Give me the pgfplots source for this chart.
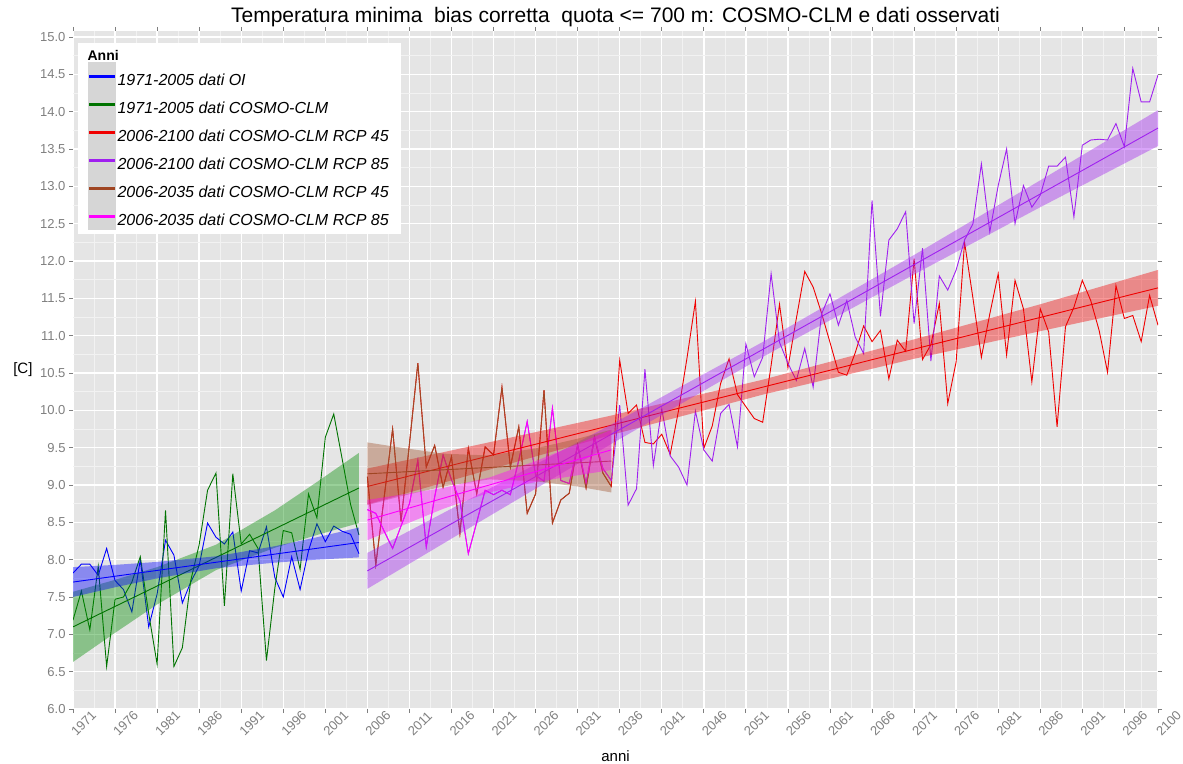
\documentclass[border=0pt]{standalone}
\usepackage{fontspec}
\setmainfont{Liberation Sans}
\usepackage{pgfplots}
\pgfplotsset{compat=1.18}
\pgfkeys{/pgf/number format/assume math mode=true}
\definecolor{panelbg}{HTML}{E5E5E5}
\definecolor{minorgrid}{HTML}{F2F2F2}
\definecolor{cblue}{RGB}{0,0,255}
\definecolor{cgreen}{RGB}{0,115,0}
\definecolor{cgreenfill}{RGB}{0,139,0}
\definecolor{cred}{RGB}{240,0,0}
\definecolor{cpurple}{RGB}{160,32,240}
\definecolor{cbrown}{RGB}{160,70,35}
\definecolor{cbrownfill}{RGB}{160,82,45}
\definecolor{cmag}{RGB}{255,0,255}
\definecolor{keygray}{HTML}{D6D6D6}
\definecolor{ticklab}{HTML}{7F7F7F}
\pgfplotsset{
  keyimg/.style={color=#1, legend image code/.code={
    \fill[keygray] (0bp,-8.8bp) rectangle (27bp,18.8bp);
    \fill[#1] (1bp,3.8bp) rectangle (26bp,5.2bp);}},
}
\begin{document}
\begin{tikzpicture}
\useasboundingbox (0,0) rectangle (1183bp,764bp);
\begin{axis}[
  at={(73bp,55bp)}, anchor=south west,
  width=1085bp, height=678bp, scale only axis,
  xmin=1971, xmax=2100, ymin=6, ymax=15.08,
  axis background/.style={fill=panelbg},
  axis line style={draw=none},
  xtick={1971,1976,...,2096,2100},
  minor xtick={1973.5,1978.5,...,2093.5,2098},
  ytick={6,6.5,...,15},
  minor ytick={6.25,6.75,...,14.75},
  grid=both,
  major grid style={white, line width=1.4bp},
  minor grid style={minorgrid, line width=0.6bp},
  tick align=outside,
  major tick length=4bp, minor tick length=0bp,
  tick style={ticklab, line width=0.8bp},
  every tick label/.append style={font=\fontsize{13bp}{15bp}\selectfont, text=ticklab},
  xticklabel style={/pgf/number format/1000 sep={}, rotate=45, anchor=center, inner sep=0bp, yshift=-15bp},
  yticklabel style={/pgf/number format/fixed, /pgf/number format/fixed zerofill, /pgf/number format/precision=1},
  title={Temperatura minima\ \ bias corretta\ \ quota <= 700 m: COSMO-CLM e dati osservati},
  title style={anchor=base, yshift=3bp, font=\fontsize{21bp}{24bp}\selectfont},
  xlabel={anni},
  ylabel={{}[C]},
  every axis x label/.style={at={(0.5,0)}, anchor=north, yshift=-38bp, font=\fontsize{15bp}{18bp}\selectfont},
  every axis y label/.style={at={(0,0.5)}, anchor=east, xshift=-37bp, font=\fontsize{15bp}{18bp}\selectfont},
  legend cell align=left,
  legend style={at={(0,1)}, anchor=north west, xshift=5bp, yshift=-12bp, fill=white, draw=none,
    inner xsep=10bp, inner ysep=4bp, row sep=0bp, nodes={inner ysep=0bp},
    font=\fontsize{16bp}{18bp}\selectfont\itshape,
    /tikz/every even column/.style={column sep=3bp}},
]
% ---------- data lines ----------
\addplot[cblue, line width=0.9bp, forget plot] coordinates {
(1971,7.82)(1972,7.94)(1973,7.94)(1974,7.79)(1975,8.15)(1976,7.72)(1977,7.60)(1978,7.30)(1979,8.00)(1980,7.10)
(1981,7.54)(1982,8.26)(1983,8.06)(1984,7.42)(1985,7.70)(1986,7.92)(1987,8.49)(1988,8.30)(1989,8.21)(1990,8.37)
(1991,7.58)(1992,8.12)(1993,8.09)(1994,8.44)(1995,7.76)(1996,7.50)(1997,8.04)(1998,7.60)(1999,8.12)(2000,8.48)
(2001,8.24)(2002,8.45)(2003,8.38)(2004,8.34)(2005,8.08)};
\addplot[cgreen, line width=0.9bp, forget plot] coordinates {
(1971,7.19)(1972,7.58)(1973,7.06)(1974,7.91)(1975,6.57)(1976,7.47)(1977,7.50)(1978,7.70)(1979,8.04)(1980,7.28)
(1981,6.60)(1982,8.66)(1983,6.57)(1984,6.82)(1985,7.72)(1986,8.20)(1987,8.93)(1988,9.16)(1989,7.38)(1990,9.15)
(1991,8.21)(1992,8.34)(1993,8.15)(1994,6.65)(1995,7.62)(1996,8.39)(1997,8.36)(1998,7.87)(1999,8.88)(2000,8.56)
(2001,9.64)(2002,9.95)(2003,9.35)(2004,8.74)(2005,8.33)};
\addplot[cred, line width=0.9bp, forget plot] coordinates {
(2006,9.11)(2007,7.93)(2008,8.84)(2009,9.75)(2010,8.51)(2011,9.55)(2012,10.63)(2013,9.24)(2014,9.53)(2015,8.97)
(2016,9.38)(2017,8.35)(2018,9.49)(2019,8.88)(2020,9.51)(2021,9.40)(2022,10.31)(2023,9.24)(2024,9.78)(2025,8.62)
(2026,8.88)(2027,10.27)(2028,8.49)(2029,8.80)(2030,8.89)(2031,9.54)(2032,8.96)(2033,9.64)(2034,9.16)(2035,8.98)
(2036,10.67)(2037,9.96)(2038,10.07)(2039,9.57)(2040,9.55)(2041,9.68)(2042,9.41)(2043,10.00)(2044,10.70)(2045,11.46)
(2046,9.49)(2047,9.79)(2048,10.36)(2049,10.69)(2050,10.21)(2051,10.05)(2052,9.89)(2053,9.84)(2054,10.60)(2055,11.42)
(2056,10.57)(2057,11.23)(2058,11.86)(2059,11.65)(2060,11.30)(2061,10.91)(2062,10.51)(2063,10.47)(2064,10.77)(2065,11.13)
(2066,10.92)(2067,11.07)(2068,10.42)(2069,10.94)(2070,10.79)(2071,12.03)(2072,10.68)(2073,10.88)(2074,11.43)(2075,10.09)
(2076,10.65)(2077,12.25)(2078,11.50)(2079,10.71)(2080,11.29)(2081,11.83)(2082,10.74)(2083,11.74)(2084,11.36)(2085,10.38)
(2086,11.36)(2087,11.05)(2088,9.78)(2089,11.12)(2090,11.38)(2091,11.74)(2092,11.47)(2093,11.07)(2094,10.51)(2095,11.67)
(2096,11.23)(2097,11.27)(2098,10.92)(2099,11.54)(2100,11.14)};
\addplot[cpurple, line width=0.9bp, forget plot] coordinates {
(2006,8.67)(2007,8.62)(2008,8.38)(2009,8.15)(2010,8.45)(2011,8.75)(2012,9.33)(2013,8.17)(2014,8.84)(2015,9.40)
(2016,9.07)(2017,8.79)(2018,8.08)(2019,8.50)(2020,8.93)(2021,8.87)(2022,8.93)(2023,8.87)(2024,9.33)(2025,9.85)
(2026,9.13)(2027,9.05)(2028,10.03)(2029,9.06)(2030,9.02)(2031,9.53)(2032,9.02)(2033,9.64)(2034,9.22)(2035,9.06)
(2036,10.07)(2037,8.73)(2038,8.95)(2039,10.55)(2040,9.26)(2041,10.02)(2042,9.39)(2043,9.24)(2044,9.00)(2045,9.99)
(2046,9.47)(2047,9.32)(2048,9.96)(2049,10.08)(2050,9.51)(2051,10.89)(2052,10.45)(2053,10.71)(2054,11.83)(2055,10.91)
(2056,10.63)(2057,10.40)(2058,10.83)(2059,10.31)(2060,11.29)(2061,11.56)(2062,11.14)(2063,11.47)(2064,10.98)(2065,10.76)
(2066,12.81)(2067,11.26)(2068,12.28)(2069,12.43)(2070,12.66)(2071,11.16)(2072,12.17)(2073,10.66)(2074,11.80)(2075,11.61)
(2076,11.88)(2077,12.28)(2078,12.50)(2079,13.30)(2080,12.39)(2081,13.01)(2082,13.50)(2083,12.50)(2084,13.01)(2085,12.72)
(2086,12.88)(2087,13.27)(2088,13.27)(2089,13.39)(2090,12.59)(2091,13.55)(2092,13.62)(2093,13.63)(2094,13.62)(2095,13.84)
(2096,13.53)(2097,14.58)(2098,14.13)(2099,14.13)(2100,14.49)};
\addplot[cbrown, line width=0.9bp, forget plot] coordinates {
(2006,9.11)(2007,7.93)(2008,8.84)(2009,9.75)(2010,8.51)(2011,9.55)(2012,10.63)(2013,9.24)(2014,9.53)(2015,8.97)
(2016,9.38)(2017,8.35)(2018,9.49)(2019,8.88)(2020,9.51)(2021,9.40)(2022,10.31)(2023,9.24)(2024,9.78)(2025,8.62)
(2026,8.88)(2027,10.27)(2028,8.49)(2029,8.80)(2030,8.89)(2031,9.54)(2032,8.96)(2033,9.64)(2034,9.16)(2035,8.98)};
\addplot[cmag, line width=0.9bp, forget plot] coordinates {
(2006,8.67)(2007,8.62)(2008,8.38)(2009,8.15)(2010,8.45)(2011,8.75)(2012,9.33)(2013,8.17)(2014,8.84)(2015,9.40)
(2016,9.07)(2017,8.79)(2018,8.08)(2019,8.50)(2020,8.93)(2021,8.87)(2022,8.93)(2023,8.87)(2024,9.33)(2025,9.85)
(2026,9.13)(2027,9.05)(2028,10.03)(2029,9.06)(2030,9.02)(2031,9.53)(2032,9.02)(2033,9.64)(2034,9.22)(2035,9.06)};
% ---------- confidence bands and fitted lines ----------
\addplot[fill=cgreenfill, fill opacity=0.4, draw=none, forget plot] coordinates {
(1971,7.57)(1976,7.73)(1981,7.90)(1988,8.20)(1995,8.66)(2000,9.04)(2005,9.43)
(2005,8.49)(2000,8.33)(1995,8.16)(1988,7.86)(1981,7.40)(1976,7.02)(1971,6.63)} -- cycle;
\addplot[cgreen, line width=0.9bp, forget plot] coordinates {(1971,7.10)(2005,8.96)};
\addplot[fill=cblue, fill opacity=0.4, draw=none, forget plot] coordinates {
(1971,7.90)(1976,7.93)(1981,7.97)(1988,8.045)(1995,8.18)(2000,8.30)(2005,8.43)
(2005,8.03)(2000,8.00)(1995,7.96)(1988,7.885)(1981,7.75)(1976,7.63)(1971,7.50)} -- cycle;
\addplot[cblue, line width=0.9bp, forget plot] coordinates {(1971,7.70)(2005,8.23)};
\addplot[fill=cred, fill opacity=0.4, draw=none, forget plot] coordinates {
(2006,9.22)(2020,9.56)(2035,9.93)(2053,10.41)(2071,10.95)(2086,11.42)(2100,11.88)
(2100,11.40)(2086,11.06)(2071,10.69)(2053,10.21)(2035,9.67)(2020,9.19)(2006,8.74)} -- cycle;
\addplot[cred, line width=0.9bp, forget plot] coordinates {(2006,8.98)(2100,11.64)};
\addplot[fill=cpurple, fill opacity=0.4, draw=none, forget plot] coordinates {
(2006,8.09)(2020,8.92)(2035,9.81)(2053,10.915)(2071,12.08)(2086,13.08)(2100,14.02)
(2100,13.54)(2086,12.72)(2071,11.82)(2053,10.715)(2035,9.55)(2020,8.55)(2006,7.61)} -- cycle;
\addplot[cpurple, line width=0.9bp, forget plot] coordinates {(2006,7.85)(2100,13.78)};
\addplot[fill=cbrownfill, fill opacity=0.4, draw=none, forget plot] coordinates {
(2006,9.57)(2010,9.50)(2015,9.42)(2020.5,9.395)(2026,9.49)(2031,9.62)(2035,9.74)
(2035,8.90)(2031,8.98)(2026,9.05)(2020.5,9.075)(2015,8.98)(2010,8.85)(2006,8.73)} -- cycle;
\addplot[cbrown, line width=0.9bp, forget plot] coordinates {(2006,9.15)(2035,9.32)};
\addplot[fill=cmag, fill opacity=0.4, draw=none, forget plot] coordinates {
(2006,8.80)(2010,8.87)(2015,8.96)(2020.5,9.10)(2026,9.32)(2031,9.55)(2035,9.74)
(2035,9.20)(2031,9.13)(2026,9.04)(2020.5,8.90)(2015,8.68)(2010,8.45)(2006,8.26)} -- cycle;
\addplot[cmag, line width=0.9bp, forget plot] coordinates {(2006,8.53)(2035,9.47)};
% ---------- legend ----------
\addlegendimage{empty legend}
\addlegendentry{\hspace*{-30bp}\fontsize{14bp}{16bp}\selectfont\upshape\bfseries Anni\rule[-2bp]{0pt}{15bp}}
\addlegendimage{keyimg=cblue}
\addlegendentry{1971-2005 dati OI}
\addlegendimage{keyimg=cgreen}
\addlegendentry{1971-2005 dati COSMO-CLM}
\addlegendimage{keyimg=cred}
\addlegendentry{2006-2100 dati COSMO-CLM RCP 45}
\addlegendimage{keyimg=cpurple}
\addlegendentry{2006-2100 dati COSMO-CLM RCP 85}
\addlegendimage{keyimg=cbrown}
\addlegendentry{2006-2035 dati COSMO-CLM RCP 45}
\addlegendimage{keyimg=cmag}
\addlegendentry{2006-2035 dati COSMO-CLM RCP 85}
\end{axis}
\end{tikzpicture}
\end{document}
